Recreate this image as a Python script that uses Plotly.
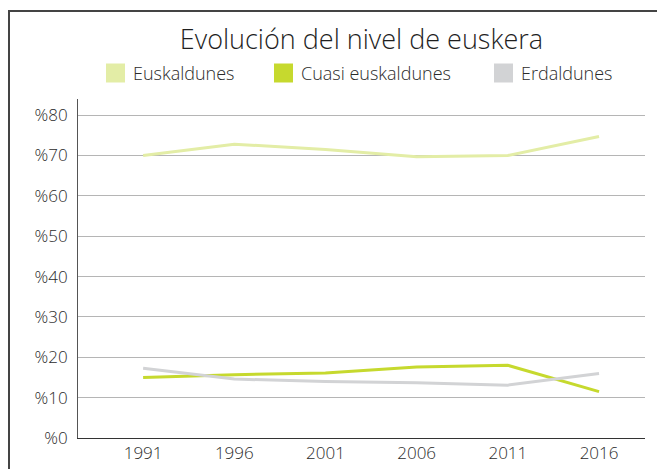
import plotly.graph_objects as go

years = [1991, 1996, 2001, 2006, 2011, 2016]
euskaldunes = [70.0, 72.8, 71.5, 69.7, 70.0, 74.7]
cuasi = [15.0, 15.7, 16.1, 17.6, 18.0, 11.5]
erdaldunes = [17.3, 14.6, 14.0, 13.7, 13.1, 16.0]
series_names = ["Euskaldunes", "Cuasi euskaldunes", "Erdaldunes"]
colors = ["#e3eda6", "#c6d92e", "#d2d3d5"]
ytick_vals = [0, 10, 20, 30, 40, 50, 60, 70, 80]
ytick_text = ["%" + str(v) for v in ytick_vals]
title_text = "Evolución del nivel de euskera"

FONT = "Open Sans"
TXT = "#2b2b2b"
WEIGHT = 300

# page body margin in the browser (8px) is compensated
OFF = 8
W, H = 665 - OFF, 469 - OFF
L = 78 - OFF
T = 99 - OFF
B = H - (438 - OFF)
R = W - (645 - OFF)
pw, ph = W - L - R, H - T - B

def px_x(x):
    return (x - OFF - L) / pw

def px_y(y):
    return (H - B - (y - OFF)) / ph

fig = go.Figure()
for name, vals, col in zip(series_names, [euskaldunes, cuasi, erdaldunes], colors):
    fig.add_trace(go.Scatter(x=years, y=vals, mode="lines", name=name,
                             line=dict(color=col, width=3), showlegend=False,
                             hoverinfo="x+y"))

# frame
fig.add_shape(type="path",
              path=f"M {px_x(9)} {px_y(475)} L {px_x(9)} {px_y(11)} L {px_x(670)} {px_y(11)}",
              xref="paper", yref="paper", line=dict(color="#444", width=2), layer="above")

# legend (manual)
legend_sq_x = [106, 274, 494]
legend_y = 73
for name, col, sx in zip(series_names, colors, legend_sq_x):
    fig.add_shape(type="rect", xref="paper", yref="paper",
                  x0=px_x(sx), x1=px_x(sx + 19), y0=px_y(legend_y + 9.5), y1=px_y(legend_y - 9.5),
                  fillcolor=col, line=dict(width=0))
    fig.add_annotation(text=name, xref="paper", yref="paper", x=px_x(sx + 25), y=px_y(legend_y),
                       xanchor="left", yanchor="middle", showarrow=False,
                       font=dict(size=18, color=TXT, family=FONT, weight=WEIGHT))

fig.update_layout(
    width=W, height=H,
    margin=dict(l=L, r=R, t=T, b=B, autoexpand=False),
    paper_bgcolor="white", plot_bgcolor="white",
    showlegend=False,
    font=dict(family=FONT, color=TXT, size=17, weight=WEIGHT),
    title=dict(text=title_text, x=0.5, xref="paper", xanchor="center",
               y=(H - (40 - OFF)) / H, yanchor="middle", automargin=False,
               font=dict(size=27, color="#1f1f1f", family=FONT, weight=WEIGHT)),
    xaxis=dict(range=[1987.43, 2018.52], tickvals=years, ticktext=[str(y) for y in years],
               showgrid=False, showline=True, linecolor="#333", linewidth=1,
               zeroline=False, ticks="", automargin=False,
               tickfont=dict(size=17, color=TXT, family=FONT, weight=WEIGHT)),
    yaxis=dict(range=[0, 84], tickvals=ytick_vals, ticktext=ytick_text,
               showgrid=True, gridcolor="#b5b5b5", gridwidth=1,
               showline=True, linecolor="#555", linewidth=1, zeroline=False,
               ticks="", ticklabelstandoff=6, automargin=False,
               tickfont=dict(size=17, color=TXT, family=FONT, weight=WEIGHT)),
)

fig.write_html("out.html")
